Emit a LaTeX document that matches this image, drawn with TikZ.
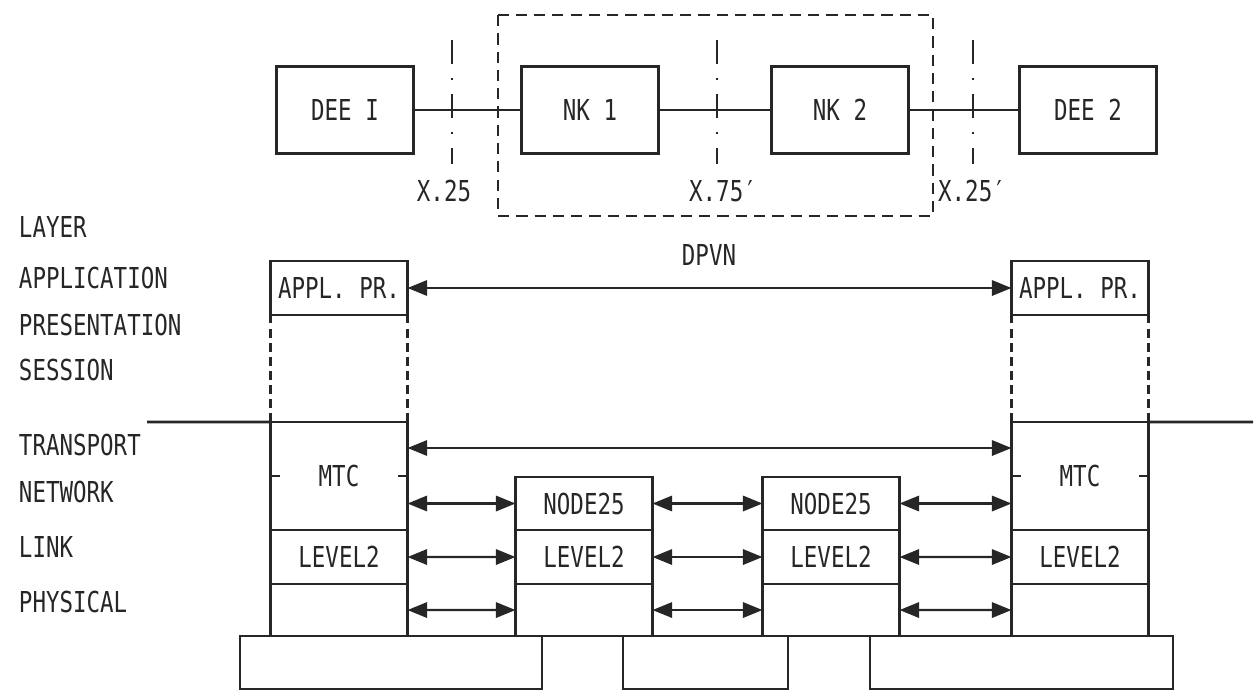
\documentclass[tikz,border=0pt]{standalone}
\usepackage{fontspec}
\newfontfamily\typefont{DejaVu Sans Mono}[FakeStretch=0.78]
\usetikzlibrary{arrows.meta, positioning}
\definecolor{ink}{gray}{0.15}

\tikzset{
  txt/.style={font=\typefont\fontsize{20.5}{24}\selectfont, text=ink},
  cell/.style={txt, draw=ink, line width=1.9pt, inner sep=0pt, outer sep=0pt,
    minimum width=3.425cm},
  plate/.style={draw=ink, line width=1.9pt, inner sep=0pt, outer sep=0pt,
    minimum height=1.325cm},
  wire/.style={draw=ink, line width=1.8pt},
  dbl/.style={ink, line width=1.5pt,
    {Triangle[length=14pt,width=11pt]}-{Triangle[length=14pt,width=11pt]}},
  iface/.style={ink, line width=1.6pt, dash pattern=on 17pt off 10pt on 1.5pt off 10pt},
}

\begin{document}
\begin{tikzpicture}[x=0.025cm, y=-0.025cm]
\useasboundingbox (0,0) rectangle (1256,698);

% Top row: stations and switching nodes
\node[cell, minimum height=2.175cm] (dee1) at (345,110) {DEE I};
\node[cell, minimum height=2.175cm] (nk1) at (590,110) {NK 1};
\node[cell, minimum height=2.175cm] (nk2) at (840,110) {NK 2};
\node[cell, minimum height=2.175cm] (dee2) at (1088,110) {DEE 2};
\draw[wire] (dee1) -- (nk1) -- (nk2) -- (dee2);

% Network boundary
\draw[ink, line width=1.8pt, dash pattern=on 8pt off 5pt] (498,15) rectangle (933,216);
\node[txt] (dpvn) at (709,255) {DPVN};

% Interfaces
\foreach \x/\lx/\name in {452/444/X.25, 717/723/X.75′, 973/972/X.25′} {
  \draw[iface] (\x,40) -- (\x,164);
  \node[txt] (if\x) at (\lx,191) {\name};
}

% Layer names
\foreach \y/\name in {227/LAYER, 278/APPLICATION, 325/PRESENTATION, 370/SESSION,
                      445/TRANSPORT, 492/NETWORK, 547/LINK, 602/PHYSICAL} {
  \node[txt, anchor=west] (lay\y) at (14,\y) {\name};
}

% End systems (left A, right D)
\foreach \x/\s in {339/A, 1080/D} {
  \node[cell, minimum height=1.35cm] (apl\s) at (\x,288) {APPL. PR.};
  \node[cell, minimum height=2.7cm] (mtc\s) at (\x,476) {MTC};
  \node[cell, minimum height=1.35cm, below=0pt of mtc\s] (lvl\s) {LEVEL2};
  \node[cell, minimum height=1.3cm, below=0pt of lvl\s] (phy\s) {};
  \draw[ink, line width=1.6pt, dash pattern=on 6pt off 4pt]
    (apl\s.south west) -- (mtc\s.north west)
    (apl\s.south east) -- (mtc\s.north east);
  \draw[wire] (mtc\s.west) -- ++(10,0);
  \draw[wire] (mtc\s.east) -- ++(-10,0);
}

% Transit nodes (B, C)
\foreach \x/\s in {584/B, 831/C} {
  \node[cell, minimum height=1.325cm] (net\s) at (\x,503.5) {NODE25};
  \node[cell, minimum height=1.35cm, below=0pt of net\s] (lvl\s) {LEVEL2};
  \node[cell, minimum height=1.3cm, below=0pt of lvl\s] (phy\s) {};
}

% Layer boundary
\coordinate (lyL) at (147,422);
\coordinate (lyR) at (1253,422);
\draw[wire] (lyL) -- (mtcA.north west);
\draw[wire] (mtcD.north east) -- (lyR);

% Peer relations
\draw[dbl] (aplA) -- (aplD);
\coordinate (tpL) at (mtcA.east |- 0,448);
\draw[dbl] (tpL) -- (tpL -| mtcD.west);
\draw[dbl] (mtcA.east |- netB.west) -- (netB.west);
\draw[dbl] (netB) -- (netC);
\draw[dbl] (netC.east) -- (netC.east -| mtcD.west);
\foreach \a/\b in {A/B, B/C, C/D} {
  \draw[dbl] (lvl\a) -- (lvl\b);
  \draw[dbl] (phy\a) -- (phy\b);
}

% Transmission media
\node[plate, minimum width=7.55cm] (base1) at (391,662.5) {};
\node[plate, minimum width=4.125cm] (base2) at (705.5,662.5) {};
\node[plate, minimum width=7.575cm] (base3) at (1021.5,662.5) {};

\end{tikzpicture}
\end{document}
